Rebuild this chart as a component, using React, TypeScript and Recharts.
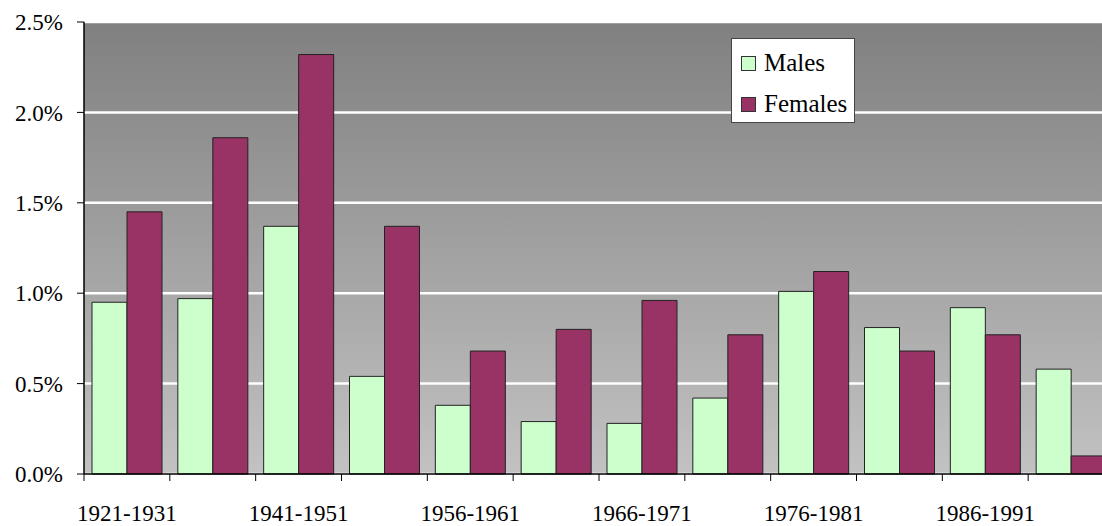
import React from "react";
import { BarChart, Bar, XAxis, YAxis, CartesianGrid } from "recharts";

const categories = [
  "1921-1931", "1931-1941", "1941-1951", "1951-1956", "1956-1961", "1961-1966",
  "1966-1971", "1971-1976", "1976-1981", "1981-1986", "1986-1991", "1991-1996",
];
const males = [0.95, 0.97, 1.37, 0.54, 0.38, 0.29, 0.28, 0.42, 1.01, 0.81, 0.92, 0.58];
const females = [1.45, 1.86, 2.32, 1.37, 0.68, 0.8, 0.96, 0.77, 1.12, 0.68, 0.77, 0.1];
const yTicks = [0, 0.5, 1.0, 1.5, 2.0, 2.5];

const series = [
  { key: "Males", color: "#CCFFCC" },
  { key: "Females", color: "#993366" },
];

const data = categories.map((c, i) => ({ period: c, Males: males[i], Females: females[i] }));

const FONT = "Liberation Serif, Times New Roman, Times, serif";

const XTick = (props: any) => {
  const { x, y, payload, index, width, visibleTicksCount } = props;
  const half = payload && payload.offset ? payload.offset : width / visibleTicksCount / 2;
  return (
    <g>
      <line x1={x - half} y1={y} x2={x - half} y2={y + 7} stroke="#000" strokeWidth={1} />
      {index % 2 === 0 && (
        <text x={x} y={y + 47} textAnchor="middle" fontSize={23} fontFamily={FONT} fill="#000">
          {payload.value}
        </text>
      )}
    </g>
  );
};

const LegendBox = () => (
  <div
    style={{
      position: "absolute",
      left: 731,
      top: 38,
      width: 124,
      height: 85,
      background: "#fff",
      border: "1px solid #444",
      boxSizing: "border-box",
      fontFamily: FONT,
      fontSize: 25,
      color: "#000",
    }}
  >
    {series.map((s, i) => (
      <div
        key={s.key}
        style={{ position: "absolute", left: 9, top: 9 + i * 41, height: 30, display: "flex", alignItems: "center" }}
      >
        <span
          style={{
            display: "inline-block",
            width: 13,
            height: 13,
            background: s.color,
            border: "1px solid #333",
            marginRight: 8,
          }}
        />
        <span style={{ lineHeight: "30px" }}>{s.key}</span>
      </div>
    ))}
  </div>
);

export default function App() {
  return (
    <div style={{ position: "absolute", left: 0, top: 0, width: 1102, height: 526, overflow: "hidden", background: "#fff" }}>
      <BarChart
        width={1114}
        height={526}
        data={data}
        margin={{ top: 22, right: 0, bottom: 0, left: 0 }}
        barCategoryGap={8}
        barGap={0}
      >
        <defs>
          <linearGradient id="bgGrad" x1="0" y1="0" x2="0" y2="1">
            <stop offset="0%" stopColor="#808080" />
            <stop offset="100%" stopColor="#c2c2c2" />
          </linearGradient>
        </defs>
        <CartesianGrid vertical={false} stroke="#ffffff" strokeWidth={2.5} fill="url(#bgGrad)" fillOpacity={1} />
        <XAxis
          dataKey="period"
          interval={0}
          height={52}
          tickSize={0}
          tickMargin={0}
          tickLine={false}
          axisLine={{ stroke: "#000", strokeWidth: 1.5 }}
          tick={<XTick />}
        />
        <YAxis
          width={84}
          domain={[0, 2.5]}
          ticks={yTicks}
          tickSize={7}
          tickMargin={14}
          tickLine={{ stroke: "#000" }}
          axisLine={{ stroke: "#000", strokeWidth: 1.5 }}
          tickFormatter={(v: number) => `${v.toFixed(1)}%`}
          tick={{ fill: "#000", fontSize: 23, fontFamily: FONT }}
        />
        {series.map((s) => (
          <Bar key={s.key} dataKey={s.key} fill={s.color} stroke="#222" strokeWidth={1} isAnimationActive={false} />
        ))}
      </BarChart>
      <LegendBox />
    </div>
  );
}
